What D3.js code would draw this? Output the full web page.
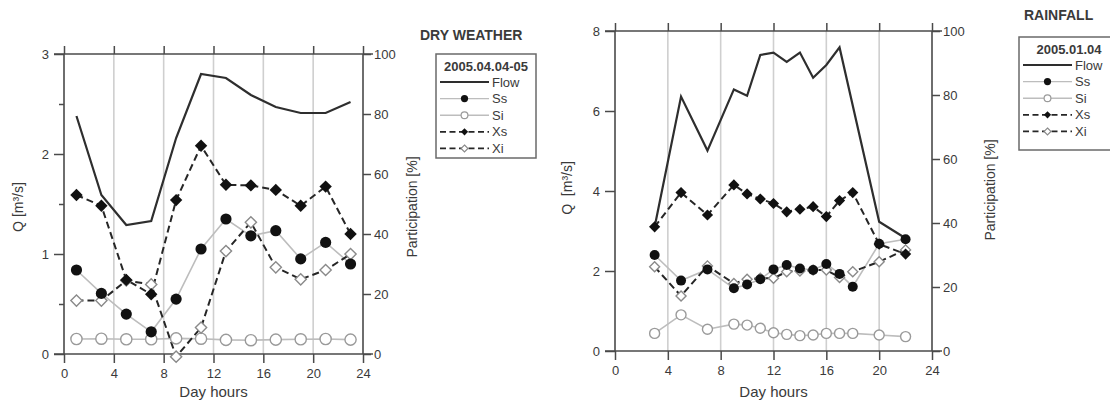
<!DOCTYPE html>
<html>
<head>
<meta charset="utf-8">
<script src="https://cdn.jsdelivr.net/npm/d3@7"></script>
<style>
  html, body { margin: 0; padding: 0; background: #fff; }
  svg text { font-family: "Liberation Sans", Arial, sans-serif; fill: #3a3a3a; }
</style>
</head>
<body>
<svg id="chart" width="1110" height="404"></svg>
<script>
// ---- Dry weather, 2005.04.04-05 ----
const dryHours = [1, 3, 5, 7, 9, 11, 13, 15, 17, 19, 21, 23];
const dryFlow  = [2.38, 1.59, 1.29, 1.33, 2.16, 2.80, 2.76, 2.59, 2.47, 2.41, 2.41, 2.52]; // m3/s
const drySs    = [28, 20.2, 13.3, 7.4, 18.3, 35, 45, 39.4, 41.1, 31.7, 37.2, 30];        // %
const drySi    = [5, 5.1, 4.9, 4.9, 5.2, 5.1, 4.7, 4.6, 4.8, 4.9, 5, 4.8];
const dryXs    = [53, 49.4, 24.7, 19.9, 51.3, 69.4, 56.4, 56.2, 54.7, 49.4, 55.8, 40];
const dryXi    = [17.8, 17.8, 24.5, 23.2, -0.9, 8.8, 34.3, 43.9, 28.9, 24.9, 28, 33.3];

// ---- Rainfall, 2005.01.04 ----
const rainHours     = [3, 5, 7, 9, 10, 11, 12, 13, 14, 15, 16, 17, 18, 20, 22];
const rainFlowHours = [3, 5, 7, 9, 10, 11, 12, 13, 14, 15, 16, 17, 20, 22];
const rainFlow = [3.1, 6.36, 5.01, 6.54, 6.38, 7.4, 7.46, 7.23, 7.46, 6.83, 7.15, 7.59, 3.23, 2.82];
const rainSs   = [30, 22, 25.5, 19.6, 20.8, 22.4, 25.5, 26.9, 25.8, 25.3, 27.2, 24.1, 20.1, 33.5, 34.9];
const rainSi   = [5.5, 11.3, 6.8, 8.4, 8.1, 7.1, 5.7, 5.2, 4.8, 5, 5.5, 5.5, 5.5, 5, 4.5];
const rainXs   = [38.8, 49.5, 42.5, 51.9, 49.1, 47.5, 46.1, 43.5, 44.3, 45.1, 42, 47, 49.5, 33.4, 30.3];
const rainXi   = [26.3, 17.2, 26.6, 21.1, 22.4, 22.7, 22.7, 24.8, 25, 25.3, 25.3, 23, 24.8, 27.9, 31.6];

// ---- Axis ticks ----
const hourTicks = [0, 4, 8, 12, 16, 20, 24];
const pctTicks  = [0, 20, 40, 60, 80, 100];
const dryQTicks = [0, 1, 2, 3];
const dryQMinor = [0.5, 1.5, 2.5];
const rainQTicks = [0, 2, 4, 6, 8];
const seriesNames = ["Flow", "Ss", "Si", "Xs", "Xi"];

const svg = d3.select("#chart");
const AXIS = "#4a4a4a", GRID = "#cfcfcf", LIGHT = "#bdbdbd", DARK = "#262626";

function diamond(s) {
  return `M0,${-s}L${s},0L0,${s}L${-s},0Z`;
}

function drawPanel(cfg) {
  const g = svg.append("g");
  const x = d3.scaleLinear().domain([0, 24]).range([cfg.x0, cfg.x1]);
  const yQ = d3.scaleLinear().domain([0, cfg.qMax]).range([cfg.yBot, cfg.yTop]);
  const yP = d3.scaleLinear().domain([0, 100]).range([cfg.yBot, cfg.yTop]);

  // vertical grid
  g.selectAll(".grid").data(hourTicks.slice(1, -1)).join("line")
    .attr("x1", d => x(d)).attr("x2", d => x(d))
    .attr("y1", cfg.yTop).attr("y2", cfg.yBot)
    .attr("stroke", GRID).attr("stroke-width", 1.6);

  // axes
  const axisStyle = sel => {
    sel.select(".domain").remove();
    sel.selectAll("line").attr("stroke", AXIS).attr("stroke-width", 1.5);
    sel.selectAll("text").attr("font-size", 13).attr("fill", "#3a3a3a")
      .attr("font-family", "Liberation Sans, Arial, sans-serif");
  };
  g.append("g").attr("transform", `translate(0,${cfg.yBot})`)
    .call(d3.axisBottom(x).tickValues(hourTicks).tickSize(9).tickPadding(6).tickFormat(d3.format("d")))
    .call(axisStyle);
  g.append("g").attr("transform", `translate(0,${cfg.yTop})`)
    .call(d3.axisTop(x).tickValues(hourTicks).tickSize(8).tickFormat(""))
    .call(axisStyle);
  g.append("g").attr("transform", `translate(${cfg.x0},0)`)
    .call(d3.axisLeft(yQ).tickValues(cfg.qTicks).tickSize(10).tickPadding(5).tickFormat(d3.format("d")))
    .call(axisStyle);
  if (cfg.qMinor) {
    g.append("g").attr("transform", `translate(${cfg.x0},0)`)
      .call(d3.axisLeft(yQ).tickValues(cfg.qMinor).tickSize(5).tickFormat(""))
      .call(axisStyle);
  }
  g.append("g").attr("transform", `translate(${cfg.x1},0)`)
    .call(d3.axisRight(yP).tickValues(pctTicks).tickSize(8).tickPadding(3).tickFormat(d3.format("d")))
    .call(axisStyle);

  // frame lines
  [[cfg.x0 - 10, cfg.yTop, cfg.x1 + 10, cfg.yTop], [cfg.x0 - 10, cfg.yBot, cfg.x1 + 10, cfg.yBot],
   [cfg.x0, cfg.yTop, cfg.x0, cfg.yBot], [cfg.x1, cfg.yTop, cfg.x1, cfg.yBot]].forEach(l => {
    g.append("line").attr("x1", l[0]).attr("y1", l[1]).attr("x2", l[2]).attr("y2", l[3])
      .attr("stroke", AXIS).attr("stroke-width", 1.6);
  });

  // axis titles
  g.append("text").attr("x", (cfg.x0 + cfg.x1) / 2).attr("y", 397)
    .attr("text-anchor", "middle").attr("font-size", 15).text("Day hours");
  g.append("text").attr("transform", `translate(${cfg.qLabelX},${cfg.qLabelY}) rotate(-90)`)
    .attr("text-anchor", "middle").attr("font-size", 14).style("white-space", "pre")
    .text(cfg.qLabel);
  g.append("text").attr("transform", `translate(${cfg.pLabelX},${cfg.pLabelY}) rotate(-90)`)
    .attr("text-anchor", "middle").attr("font-size", 14).text("Participation [%]");

  // series lines
  const lineQ = d3.line().x(d => x(d[0])).y(d => yQ(d[1]));
  const lineP = d3.line().x(d => x(d[0])).y(d => yP(d[1]));
  const zipH = (h, v) => h.map((t, i) => [t, v[i]]);

  const pSi = zipH(cfg.hours, cfg.si), pSs = zipH(cfg.hours, cfg.ss);
  const pXi = zipH(cfg.hours, cfg.xi), pXs = zipH(cfg.hours, cfg.xs);

  g.append("path").datum(pSi).attr("d", lineP).attr("fill", "none")
    .attr("stroke", LIGHT).attr("stroke-width", 1.6);
  g.append("path").datum(pSs).attr("d", lineP).attr("fill", "none")
    .attr("stroke", LIGHT).attr("stroke-width", 1.6);
  g.append("path").datum(pXi).attr("d", lineP).attr("fill", "none")
    .attr("stroke", DARK).attr("stroke-width", 2).attr("stroke-dasharray", "7,4");
  g.append("path").datum(pXs).attr("d", lineP).attr("fill", "none")
    .attr("stroke", DARK).attr("stroke-width", 2).attr("stroke-dasharray", "7,4");
  g.append("path").datum(zipH(cfg.flowHours, cfg.flow)).attr("d", lineQ).attr("fill", "none")
    .attr("stroke", "#2e2e2e").attr("stroke-width", 2.2).attr("stroke-linejoin", "miter");

  // markers
  const r = cfg.r;
  g.selectAll(".si").data(pSi).join("circle")
    .attr("cx", d => x(d[0])).attr("cy", d => yP(d[1])).attr("r", r)
    .attr("fill", "#fff").attr("stroke", "#9a9a9a").attr("stroke-width", 1.4);
  g.selectAll(".xi").data(pXi).join("path")
    .attr("transform", d => `translate(${x(d[0])},${yP(d[1])})`).attr("d", diamond(r))
    .attr("fill", "#fff").attr("stroke", "#8a8a8a").attr("stroke-width", 1.4);
  g.selectAll(".ss").data(pSs).join("circle")
    .attr("cx", d => x(d[0])).attr("cy", d => yP(d[1])).attr("r", r)
    .attr("fill", "#111");
  g.selectAll(".xs").data(pXs).join("path")
    .attr("transform", d => `translate(${x(d[0])},${yP(d[1])})`).attr("d", diamond(r + 0.6))
    .attr("fill", "#111");

  // heading and legend
  g.append("text").attr("x", cfg.headX).attr("y", cfg.headY)
    .attr("font-size", 14).attr("font-weight", "bold").text(cfg.heading);
  const L = cfg.legend;
  g.append("rect").attr("x", L.x).attr("y", L.y).attr("width", L.w).attr("height", L.h)
    .attr("fill", "#fff").attr("stroke", "#6a6a6a").attr("stroke-width", 1.5);
  g.append("text").attr("x", L.x + L.w / 2).attr("y", L.y + 17).attr("text-anchor", "middle")
    .attr("font-size", 13).attr("font-weight", "bold").text(cfg.period);
  seriesNames.forEach((name, i) => {
    const yy = L.y + 28 + i * 16.6;
    const dashed = name[0] === "X";
    const lineColor = name === "Flow" ? "#2e2e2e" : (dashed ? DARK : LIGHT);
    g.append("line").attr("x1", L.lx0).attr("x2", L.lx1).attr("y1", yy).attr("y2", yy)
      .attr("stroke", lineColor).attr("stroke-width", name === "Flow" ? 2 : (dashed ? 1.8 : 1.4))
      .attr("stroke-dasharray", dashed ? "6,3.5" : null);
    const mx = (L.lx0 + L.lx1) / 2;
    if (name === "Ss") g.append("circle").attr("cx", mx).attr("cy", yy).attr("r", 3.6).attr("fill", "#111");
    if (name === "Si") g.append("circle").attr("cx", mx).attr("cy", yy).attr("r", 3.4)
      .attr("fill", "#fff").attr("stroke", "#9a9a9a").attr("stroke-width", 1.2);
    if (name === "Xs") g.append("path").attr("transform", `translate(${mx},${yy})`).attr("d", diamond(3.6)).attr("fill", "#111");
    if (name === "Xi") g.append("path").attr("transform", `translate(${mx},${yy})`).attr("d", diamond(3.4))
      .attr("fill", "#fff").attr("stroke", "#8a8a8a").attr("stroke-width", 1.2);
    g.append("text").attr("x", L.lx1 + 3).attr("y", yy + 4.5).attr("font-size", 13).text(name);
  });
}

drawPanel({
  x0: 64, x1: 363, yTop: 54, yBot: 354, qMax: 3, qTicks: dryQTicks, qMinor: dryQMinor,
  hours: dryHours, flowHours: dryHours, flow: dryFlow, ss: drySs, si: drySi, xs: dryXs, xi: dryXi,
  r: 5.6,
  qLabel: "Q [m³/s]", qLabelX: 23, qLabelY: 207, pLabelX: 417, pLabelY: 207,
  heading: "DRY WEATHER", headX: 420, headY: 40, period: "2005.04.04-05",
  legend: { x: 436, y: 54, w: 100, h: 104, lx0: 440, lx1: 489 }
});

drawPanel({
  x0: 615, x1: 932, yTop: 31, yBot: 351, qMax: 8, qTicks: rainQTicks, qMinor: null,
  hours: rainHours, flowHours: rainFlowHours, flow: rainFlow, ss: rainSs, si: rainSi, xs: rainXs, xi: rainXi,
  r: 5,
  qLabel: "Q  [m³/s]", qLabelX: 572, qLabelY: 188, pLabelX: 995, pLabelY: 190,
  heading: "RAINFALL", headX: 1024, headY: 20, period: "2005.01.04",
  legend: { x: 1019, y: 37, w: 100, h: 113, lx0: 1023, lx1: 1072 }
});
</script>
</body>
</html>
